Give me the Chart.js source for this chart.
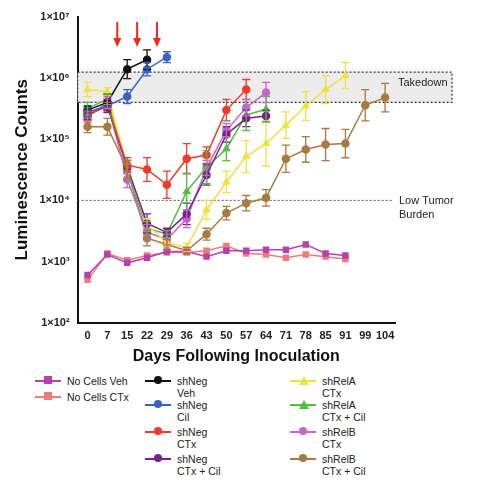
<!DOCTYPE html>
<html><head><meta charset="utf-8">
<script src="https://cdn.jsdelivr.net/npm/chart.js@4.4.1/dist/chart.umd.min.js"></script>
<style>
body{margin:0;background:#fff;font-family:Arial,"Liberation Sans",sans-serif;}
#wrap{position:relative;width:487px;height:370px;}
#legend{position:relative;width:487px;height:126px;font-size:10.5px;color:#222;}
.it{position:absolute;display:flex;align-items:flex-start;line-height:12px;}
.mk{width:26px;height:10px;position:relative;margin-right:6px;flex:none;}
.mk i{position:absolute;left:0;right:0;top:5px;height:1.5px;}
.mk b{position:absolute;left:9px;top:1px;width:8px;height:8px;}
</style></head><body>
<div id="wrap"><canvas id="c" width="487" height="370"></canvas></div>
<div id="legend"></div>
<script>
const days = ['0','7','15','22','29','36','43','50','57','64','71','78','85','91','99','104'];
const yTicks = {2:'1×10²',3:'1×10³',4:'1×10⁴',5:'1×10⁵',6:'1×10⁶',7:'1×10⁷'};

const noCellsVeh = [600,1300,950,1150,1450,1450,1200,1500,1500,1550,1550,1900,1350,1250];
const noCellsCTx = [500,1350,1050,1250,1400,1400,1500,1800,1350,1300,1150,1300,1200,1100];
const shNegVeh = [3e5,4e5,1.4e6,2e6];
const shNegVehHi = [3.5e5,5.5e5,2e6,2.9e6];
const shNegCil = [2.8e5,3.5e5,5e5,1.4e6,2.2e6];
const shNegCilHi = [3.3e5,4e5,6.5e5,1.8e6,2.7e6];
const shNegCTx = [2.5e5,3.5e5,3.8e4,3.2e4,1.8e4,4.8e4,5.5e4,3e5,6.5e5];
const shNegCTxHi = [3e5,4e5,5e4,5e4,3e4,8.5e4,7.5e4,4.5e5,9.5e5];
const shNegCTxCil = [2.5e5,3.5e5,3.5e4,4.2e3,3e3,6e3,2.6e4,1.2e5,2.2e5,2.4e5];
const shNegCTxCilHi = [3e5,4.5e5,4.5e4,6e3,3.5e3,9e3,3.8e4,1.6e5,3e5,3e5];
const shRelACTx = [6.5e5,6e5,3.5e4,4e3,2e3,1.7e3,7e3,2e4,5.2e4,8.5e4,1.7e5,3.5e5,6.5e5,1.1e6];
const shRelACTxHi = [8.5e5,7e5,4.5e4,5e3,2.3e3,2e3,1e4,3e4,9.5e4,2e5,2.8e5,6e5,1.1e6,1.8e6];
const shRelACTxCil = [3.2e5,4.5e5,3e4,3.5e3,2.8e3,1.4e4,3.5e4,7e4,2.5e5,3.1e5];
const shRelACTxCilHi = [4e5,5.5e5,4e4,4.5e3,3.2e3,2.8e4,6.5e4,1.1e5,4.5e5,5e5];
const shRelBCTx = [2.3e5,4e5,2.2e4,3e3,2.3e3,5e3,3.4e4,1.4e5,3.3e5,5.8e5];
const shRelBCTxHi = [2.8e5,5e5,3e4,4e3,2.8e3,7e3,4.5e4,1.8e5,4.5e5,8.5e5];
const shRelBCTxCil = [1.6e5,1.6e5,3.2e4,2.4e3,1.9e3,1.5e3,2.8e3,6.2e3,9e3,1.1e4,4.8e4,6.8e4,8.2e4,8.5e4,3.6e5,4.8e5];
const shRelBCTxCilHi = [2e5,2.2e5,4.5e4,3.2e3,2.3e3,1.7e3,3.5e3,8e3,1.2e4,1.5e4,8e4,1.1e5,1.5e5,1.45e5,6.5e5,8.2e5];

const series = [
 {label:'No Cells Veh',data:noCellsVeh,hi:null,color:'#b83fae',shape:'rect'},
 {label:'No Cells CTx',data:noCellsCTx,hi:null,color:'#f07a7a',shape:'rect'},
 {label:'shNeg\nVeh',data:shNegVeh,hi:shNegVehHi,color:'#111111',shape:'circle'},
 {label:'shNeg\nCil',data:shNegCil,hi:shNegCilHi,color:'#3a62c4',shape:'circle'},
 {label:'shNeg\nCTx',data:shNegCTx,hi:shNegCTxHi,color:'#f03a2a',shape:'circle'},
 {label:'shNeg\nCTx + Cil',data:shNegCTxCil,hi:shNegCTxCilHi,color:'#7b1f8f',shape:'circle'},
 {label:'shRelA\nCTx',data:shRelACTx,hi:shRelACTxHi,color:'#f0e040',shape:'triangle'},
 {label:'shRelA\nCTx + Cil',data:shRelACTxCil,hi:shRelACTxCilHi,color:'#4cc23a',shape:'triangle'},
 {label:'shRelB\nCTx',data:shRelBCTx,hi:shRelBCTxHi,color:'#c765c9',shape:'circle'},
 {label:'shRelB\nCTx + Cil',data:shRelBCTxCil,hi:shRelBCTxCilHi,color:'#a87a3e',shape:'circle'}
];

const errPlugin={id:'err',beforeDatasetsDraw(ch){
  const ctx=ch.ctx,y=ch.scales.y,x=ch.scales.x;
  const yt=y.getPixelForValue(1.25e6),yb=y.getPixelForValue(4e5);
  ctx.save();
  ctx.fillStyle='#ececec';ctx.fillRect(x.left,yt,452-x.left,yb-yt);
  ctx.setLineDash([2,2]);ctx.strokeStyle='#333';ctx.lineWidth=1.2;
  ctx.strokeRect(x.left,yt,452-x.left,yb-yt);
  const yl=y.getPixelForValue(1e4);
  ctx.beginPath();ctx.moveTo(x.left,yl);ctx.lineTo(393,yl);ctx.lineWidth=1;ctx.strokeStyle='#555';ctx.stroke();
  ctx.setLineDash([]);
  ctx.fillStyle='#222';ctx.font='11px Arial';ctx.textBaseline='middle';
  ctx.fillText('Takedown',398,yt+(yb-yt)*0.35);
  ctx.fillText('Low Tumor',399,yl+1);ctx.fillText('Burden',399,yl+15);
  ctx.strokeStyle='#ee2a1f';ctx.fillStyle='#ee2a1f';ctx.lineWidth=2;
  [[1,2],[2,3],[3,4]].forEach(([a,b])=>{
    const px=(x.getPixelForValue(a)+x.getPixelForValue(b))/2;
    ctx.beginPath();ctx.moveTo(px,22);ctx.lineTo(px,40);ctx.stroke();
    ctx.beginPath();ctx.moveTo(px-4,38);ctx.lineTo(px+4,38);ctx.lineTo(px,47);ctx.closePath();ctx.fill();
  });
  ctx.restore();
},afterDatasetsDraw(ch){
  const ctx=ch.ctx,y=ch.scales.y,x=ch.scales.x;
  ctx.save();ctx.lineWidth=1.3;
  series.forEach((s,i)=>{ if(!s.hi) return;
    ctx.strokeStyle=s.color;
    s.data.forEach((v,j)=>{const hi=s.hi[j],lo=v*v/hi;
      const px=x.getPixelForValue(j),p1=y.getPixelForValue(hi),p2=y.getPixelForValue(lo);
      ctx.beginPath();ctx.moveTo(px,p1);ctx.lineTo(px,p2);
      ctx.moveTo(px-4,p1);ctx.lineTo(px+4,p1);ctx.moveTo(px-4,p2);ctx.lineTo(px+4,p2);ctx.stroke();});
  });
  ctx.restore();
}};

new Chart(document.getElementById('c'),{type:'line',
 data:{labels:days,datasets:series.map(s=>({label:s.label,data:s.data,borderColor:s.color,backgroundColor:s.color,
   pointStyle:s.shape,pointRadius:3.5,borderWidth:1.5,tension:0}))},
 options:{responsive:false,animation:false,
  layout:{padding:{top:17,right:92,left:8,bottom:0}},
  plugins:{legend:{display:false},tooltip:{enabled:false}},
  scales:{
   x:{type:'category',offset:true,grid:{display:false,drawTicks:true,tickColor:'#111',tickLength:5},
      border:{color:'#111',width:2},
      ticks:{color:'#222',font:{size:11,weight:'bold'},maxRotation:0,autoSkip:false,padding:2},
      title:{display:true,text:'Days Following Inoculation',color:'#111',font:{size:16,weight:'bold'},padding:{top:2}}},
   y:{type:'logarithmic',min:100,max:1e7,grid:{display:false,tickColor:'#111',tickLength:5},
      border:{color:'#111',width:2},
      afterBuildTicks:(ax)=>{ax.ticks=[2,3,4,5,6,7].map(e=>({value:Math.pow(10,e)}));},
      ticks:{color:'#222',font:{size:11,weight:'bold'},callback:(v)=>yTicks[Math.round(Math.log10(v))]||''},
      title:{display:true,text:'Luminescence Counts',color:'#111',font:{size:17,weight:'bold'}}}
  }},
 plugins:[errPlugin]});

const pos=[[35,5],[35,21],[145,5],[145,29],[145,56],[145,83],[290,5],[290,29],[290,56],[290,83]];
const lg=document.getElementById('legend');
series.forEach((s,i)=>{
  const d=document.createElement('div');d.className='it';
  d.style.left=pos[i][0]+'px';d.style.top=pos[i][1]+'px';
  let shape=s.shape==='circle'?'border-radius:50%;':'';
  if(s.shape==='triangle') shape='width:0;height:0;background:none!important;border-left:5px solid transparent;border-right:5px solid transparent;border-bottom:9px solid '+s.color+';';
  d.innerHTML='<span class="mk"><i style="background:'+s.color+'"></i><b style="background:'+s.color+';'+shape+'"></b></span><span>'+s.label.replace('\n','<br>')+'</span>';
  lg.appendChild(d);
});
</script></body></html>
